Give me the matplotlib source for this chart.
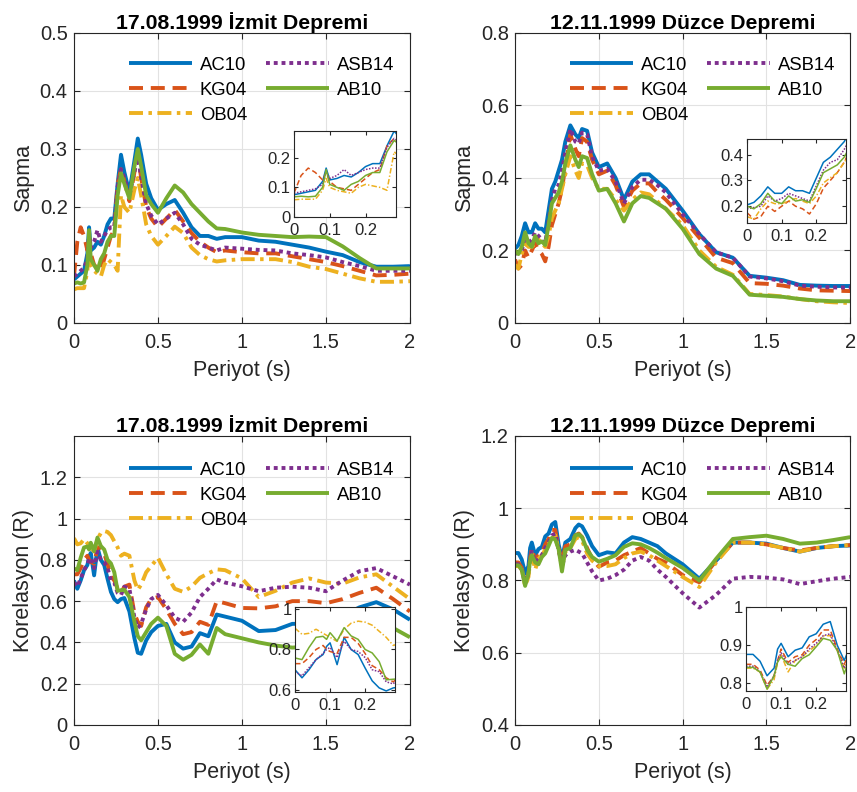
import matplotlib.pyplot as plt
from matplotlib.ticker import FuncFormatter

plt.rcParams['font.family'] = ['Liberation Sans', 'DejaVu Sans']

# Period grid (s) shared by every curve
period = [0, 0.02, 0.04, 0.06, 0.08, 0.09, 0.10, 0.12, 0.14, 0.16, 0.18, 0.20,
          0.22, 0.24, 0.26, 0.28, 0.30, 0.33, 0.36, 0.38, 0.40, 0.43, 0.46,
          0.50, 0.55, 0.60, 0.65, 0.70, 0.75, 0.80, 0.85, 0.90, 1.0, 1.1,
          1.2, 1.3, 1.4, 1.5, 1.6, 1.7, 1.8, 1.9, 2.0]

models = ['AC10', 'KG04', 'OB04', 'ASB14', 'AB10']

# Izmit - deviation (Sapma)
izmit_sapma_ac10 = [.075, .08, .085, .09, .12, .165, .125, .13, .14, .135, .15, .17, .18, .18, .24, .29, .26,
                    .225, .28, .318, .29, .24, .215, .195, .205, .212, .19, .165, .15, .15, .145, .148, .148,
                    .142, .14, .135, .13, .123, .117, .105, .097, .097, .098]
izmit_sapma_kg04 = [.08, .14, .165, .15, .125, .15, .12, .10, .095, .09, .11, .13, .15, .16, .24, .265, .245,
                    .21, .26, .29, .25, .20, .18, .165, .18, .195, .175, .155, .14, .13, .122, .125, .122,
                    .12, .12, .115, .11, .105, .098, .09, .082, .083, .085]
izmit_sapma_ob04 = [.058, .06, .06, .06, .09, .13, .10, .09, .085, .08, .10, .11, .105, .10, .09, .22, .20,
                    .19, .23, .25, .22, .17, .15, .135, .15, .166, .155, .13, .117, .11, .106, .108, .11,
                    .11, .11, .105, .097, .093, .085, .077, .071, .071, .072]
izmit_sapma_asb14 = [.08, .085, .09, .095, .11, .155, .13, .14, .16, .14, .15, .16, .165, .165, .235, .265, .25,
                     .22, .26, .29, .25, .205, .185, .17, .18, .19, .17, .145, .135, .13, .125, .13, .128,
                     .126, .125, .12, .117, .113, .105, .098, .09, .09, .09]
izmit_sapma_ab10 = [.068, .07, .068, .07, .10, .16, .11, .10, .09, .11, .12, .14, .15, .15, .22, .258, .24,
                    .215, .27, .30, .27, .22, .205, .19, .215, .237, .225, .205, .19, .175, .163, .162, .156,
                    .152, .15, .148, .149, .148, .132, .112, .094, .094, .094]

# Duzce - deviation (Sapma)
duzce_sapma_ac10 = [.205, .215, .24, .275, .25, .25, .25, .275, .26, .26, .25, .31, .37, .39, .42, .45, .50,
                    .545, .52, .51, .535, .53, .47, .43, .44, .40, .34, .39, .41, .41, .39, .37, .31,
                    .245, .195, .18, .13, .125, .118, .105, .103, .102, .102]
duzce_sapma_kg04 = [.175, .15, .16, .20, .18, .19, .20, .22, .20, .19, .17, .21, .27, .30, .33, .37, .43,
                    .52, .48, .46, .51, .50, .45, .41, .42, .38, .32, .365, .385, .385, .36, .34, .29,
                    .235, .18, .165, .11, .108, .103, .095, .09, .089, .088]
duzce_sapma_ob04 = [.16, .15, .19, .22, .21, .21, .21, .22, .23, .22, .21, .24, .29, .31, .33, .37, .41,
                    .46, .42, .40, .44, .435, .40, .37, .37, .34, .31, .34, .36, .355, .335, .315, .27,
                    .20, .155, .133, .08, .077, .073, .066, .06, .057, .055]
duzce_sapma_asb14 = [.19, .195, .20, .24, .22, .225, .23, .25, .24, .23, .22, .28, .34, .37, .38, .42, .47,
                     .535, .50, .495, .525, .52, .46, .42, .425, .39, .33, .375, .395, .395, .38, .36, .30,
                     .245, .195, .18, .128, .123, .115, .103, .10, .098, .098]
duzce_sapma_ab10 = [.20, .19, .21, .25, .22, .215, .21, .24, .22, .225, .215, .27, .33, .345, .36, .39, .44,
                    .49, .45, .43, .46, .455, .41, .365, .37, .33, .28, .33, .35, .345, .33, .315, .26,
                    .19, .15, .13, .078, .075, .072, .066, .062, .06, .06]

# Izmit - correlation (R)
izmit_r_ac10 = [.70, .66, .70, .75, .775, .815, .833, .725, .86, .80, .775, .708, .645, .61, .595, .61, .615,
                .55, .42, .35, .345, .41, .45, .48, .49, .40, .37, .38, .445, .43, .535, .525, .505,
                .455, .46, .49, .49, .50, .53, .57, .595, .56, .51]
izmit_r_kg04 = [.73, .73, .76, .80, .82, .80, .79, .78, .86, .86, .83, .78, .72, .70, .66, .64, .67,
                .68, .54, .50, .48, .57, .61, .62, .56, .49, .44, .45, .50, .485, .60, .59, .567,
                .565, .575, .60, .60, .59, .61, .64, .665, .61, .55]
izmit_r_ob04 = [.905, .875, .88, .90, .88, .87, .86, .84, .90, .93, .94, .935, .92, .89, .86, .82, .83,
                .82, .70, .655, .68, .74, .77, .81, .73, .66, .645, .67, .713, .735, .754, .75, .71,
                .62, .65, .69, .71, .69, .685, .715, .73, .67, .61]
izmit_r_asb14 = [.69, .67, .71, .75, .78, .80, .81, .76, .84, .80, .79, .76, .70, .69, .64, .63, .67,
                 .66, .52, .47, .49, .56, .61, .63, .58, .52, .50, .545, .62, .66, .705, .69, .672,
                 .648, .665, .67, .665, .648, .70, .745, .76, .72, .68]
izmit_r_ab10 = [.758, .75, .81, .86, .865, .85, .883, .842, .908, .867, .85, .80, .783, .74, .65, .653, .655,
                .62, .50, .43, .41, .45, .49, .52, .48, .345, .316, .34, .39, .345, .47, .44, .42,
                .40, .385, .375, .38, .39, .42, .46, .49, .47, .425]

# Duzce - correlation (R)
duzce_r_ac10 = [.876, .876, .858, .82, .84, .89, .905, .87, .887, .893, .922, .93, .955, .962, .90, .86, .905,
                .915, .945, .955, .95, .925, .895, .87, .878, .875, .905, .92, .915, .905, .895, .875, .845,
                .805, .855, .905, .905, .902, .89, .88, .89, .895, .897]
duzce_r_kg04 = [.85, .85, .835, .795, .82, .86, .89, .855, .87, .875, .90, .915, .94, .94, .89, .85, .895,
                .90, .925, .93, .92, .89, .86, .838, .85, .855, .87, .88, .89, .875, .86, .85, .815,
                .795, .855, .905, .905, .90, .89, .883, .89, .895, .898]
duzce_r_ob04 = [.84, .84, .83, .785, .81, .855, .875, .83, .86, .87, .885, .90, .925, .925, .885, .84, .88,
                .89, .915, .92, .91, .875, .855, .84, .84, .845, .862, .875, .88, .87, .855, .84, .81,
                .782, .85, .905, .905, .90, .89, .88, .89, .895, .898]
duzce_r_asb14 = [.845, .845, .83, .79, .82, .86, .88, .85, .86, .87, .89, .905, .925, .93, .885, .84, .87,
                 .88, .885, .88, .875, .85, .825, .80, .805, .815, .83, .855, .865, .855, .83, .81, .765,
                 .725, .76, .805, .81, .808, .803, .79, .798, .805, .81]
duzce_r_ab10 = [.842, .842, .83, .785, .82, .856, .87, .85, .845, .865, .875, .896, .918, .913, .887, .825, .885,
                .89, .925, .928, .92, .885, .865, .852, .86, .87, .893, .903, .90, .89, .877, .862, .835,
                .80, .86, .915, .92, .924, .915, .902, .905, .912, .92]

STYLES = {
    'AC10': dict(color='#0072BD'),
    'KG04': dict(color='#D95319', dashes=(3.6, 2.0)),
    'OB04': dict(color='#EDB120', dashes=(3.6, 1.4, 0.9, 1.4)),
    'ASB14': dict(color='#7E2F8E', dashes=(1.0, 1.0)),
    'AB10': dict(color='#77AC30'),
}
AXCOL = '#262626'
fmt = FuncFormatter(lambda v, p: f'{v:g}')


def style_axes(ax, size, pad_x, pad_y, length):
    ax.tick_params(direction='in', top=True, right=True, length=length, width=0.8,
                   colors=AXCOL, labelsize=size)
    ax.tick_params(axis='x', pad=pad_x)
    ax.tick_params(axis='y', pad=pad_y)
    for s in ax.spines.values():
        s.set_color(AXCOL)
        s.set_linewidth(0.8)
    ax.xaxis.set_major_formatter(fmt)
    ax.yaxis.set_major_formatter(fmt)


def draw_panel(ax, ins, curves, title, ylabel, ylim, yticks, ins_ylim, ins_yticks, leg_y):
    for name, vals in zip(models, curves):
        ax.plot(period, vals, lw=2.8, label=name, solid_capstyle='butt',
                dash_capstyle='butt', **STYLES[name])
        ins.plot(period, vals, lw=1.1, **STYLES[name])

    ax.set_xlim(0, 2)
    ax.set_xticks([0, 0.5, 1, 1.5, 2])
    ax.set_ylim(*ylim)
    ax.set_yticks(yticks)
    ax.grid(True, color='#e2e2e2', lw=0.8)
    ax.set_axisbelow(True)
    style_axes(ax, 14.5, 7, 4.5, 4)
    ax.set_title(title, fontsize=15.3, fontweight='bold', pad=3)
    ax.set_xlabel('Periyot (s)', fontsize=15.5, color=AXCOL, labelpad=6)
    ax.set_ylabel(ylabel, fontsize=15.5, color=AXCOL, labelpad=4)
    ax.legend(ncol=2, loc='upper left', bbox_to_anchor=(0.164, leg_y), frameon=False,
              fontsize=13.3, handlelength=3.4, handletextpad=0.43, columnspacing=1.05,
              labelspacing=0.43, borderpad=0, borderaxespad=0)

    ins.set_xlim(0, 0.285)
    ins.set_xticks([0, 0.1, 0.2])
    ins.set_ylim(*ins_ylim)
    ins.set_yticks(ins_yticks)
    style_axes(ins, 12, 4.5, 2.5, 3)


fig = plt.figure(figsize=(8.57, 7.92), dpi=100)

ax_tl = fig.add_axes([0.0863, 0.5922, 0.392, 0.3662])
ax_tr = fig.add_axes([0.601, 0.5922, 0.391, 0.3662])
ax_bl = fig.add_axes([0.0863, 0.0846, 0.392, 0.3649])
ax_br = fig.add_axes([0.601, 0.0846, 0.391, 0.3649])

in_tl = fig.add_axes([0.343, 0.726, 0.119, 0.1086])
in_tr = fig.add_axes([0.8716, 0.7184, 0.1155, 0.106])
in_bl = fig.add_axes([0.3442, 0.1263, 0.1167, 0.1073])
in_br = fig.add_axes([0.8705, 0.1275, 0.1167, 0.106])

draw_panel(ax_tl, in_tl,
           [izmit_sapma_ac10, izmit_sapma_kg04, izmit_sapma_ob04, izmit_sapma_asb14, izmit_sapma_ab10],
           '17.08.1999 İzmit Depremi', 'Sapma', (0, 0.5), [0, 0.1, 0.2, 0.3, 0.4, 0.5],
           (0, 0.29), [0, 0.1, 0.2], 0.918)
draw_panel(ax_tr, in_tr,
           [duzce_sapma_ac10, duzce_sapma_kg04, duzce_sapma_ob04, duzce_sapma_asb14, duzce_sapma_ab10],
           '12.11.1999 Düzce Depremi', 'Sapma', (0, 0.8), [0, 0.2, 0.4, 0.6, 0.8],
           (0.135, 0.46), [0.2, 0.3, 0.4], 0.918)
draw_panel(ax_bl, in_bl,
           [izmit_r_ac10, izmit_r_kg04, izmit_r_ob04, izmit_r_asb14, izmit_r_ab10],
           '17.08.1999 İzmit Depremi', 'Korelasyon (R)', (0, 1.4), [0, 0.2, 0.4, 0.6, 0.8, 1, 1.2],
           (0.59, 1.01), [0.6, 0.8, 1], 0.911)
draw_panel(ax_br, in_br,
           [duzce_r_ac10, duzce_r_kg04, duzce_r_ob04, duzce_r_asb14, duzce_r_ab10],
           '12.11.1999 Düzce Depremi', 'Korelasyon (R)', (0.4, 1.2), [0.4, 0.6, 0.8, 1, 1.2],
           (0.78, 1.0), [0.8, 0.9, 1], 0.911)

fig.savefig('out.png', dpi=100, facecolor='white')
